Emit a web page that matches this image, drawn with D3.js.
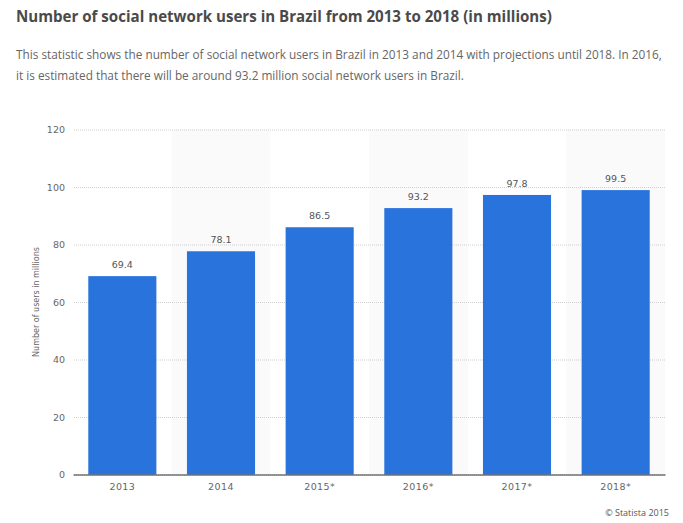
<!DOCTYPE html>
<html>
<head>
<meta charset="utf-8">
<script src="https://cdn.jsdelivr.net/npm/d3@7"></script>
<style>
  body { margin: 0; background: #fff; }
  svg { display: block; }
  .title { font: bold 15.1px "Open Sans"; fill: #4a4a4a; }
  .desc { font: 11.8px "Open Sans"; fill: #666; }
  .tick text, .ylabel, .value { font-family: "DejaVu Sans"; }
  .credit { font-family: "Open Sans"; }
</style>
</head>
<body>
<div id="chart"></div>
<script>
const years = ["2013", "2014", "2015*", "2016*", "2017*", "2018*"];
const users = [69.4, 78.1, 86.5, 93.2, 97.8, 99.5];
const yTicks = [0, 20, 40, 60, 80, 100, 120];
const descLines = [
  "This statistic shows the number of social network users in Brazil in 2013 and 2014 with projections until 2018. In 2016,",
  "it is estimated that there will be around 93.2 million social network users in Brazil."
];

const width = 683, height = 523;
const plotLeft = 73, plotRight = 665, plotTop = 129.5, plotBottom = 474.5;

const svg = d3.select("#chart").append("svg")
  .attr("width", width)
  .attr("height", height);

const x = d3.scaleBand().domain(years).range([plotLeft, plotRight]).paddingInner(0.31).paddingOuter(0.155);
const bands = d3.scaleBand().domain(years).range([plotLeft, plotRight]);
const y = d3.scaleLinear().domain([0, 120]).range([plotBottom, plotTop]);
// bars in the original sit a touch under the gridlines
const barY = d3.scaleLinear().domain([0, 120]).range([plotBottom, plotTop + 2]);

svg.append("text").attr("class", "title").attr("x", 16).attr("y", 22)
  .text("Number of social network users in Brazil from 2013 to 2018 (in millions)");

svg.selectAll(".desc").data(descLines).enter()
  .append("text")
  .attr("class", "desc")
  .attr("x", 16)
  .attr("y", (d, i) => 59 + i * 21)
  .text(d => d);

// every other column has a light background
svg.selectAll(".stripe").data(years.filter((d, i) => i % 2 == 1)).enter()
  .append("rect")
  .attr("class", "stripe")
  .attr("x", d => bands(d))
  .attr("y", plotTop)
  .attr("width", bands.bandwidth())
  .attr("height", plotBottom - plotTop)
  .attr("fill", "#fafafa");

const yAxis = d3.axisLeft(y).tickValues(yTicks).tickSize(plotRight - plotLeft).tickPadding(8);
const yG = svg.append("g")
  .attr("transform", "translate(" + plotRight + ",0)")
  .call(yAxis);
yG.select(".domain").remove();
yG.selectAll(".tick line")
  .attr("stroke", "#d0d0d0")
  .attr("stroke-dasharray", "1,1");
yG.selectAll(".tick text")
  .attr("font-size", 9.5)
  .attr("fill", "#666");

svg.selectAll(".bar").data(users).enter()
  .append("rect")
  .attr("class", "bar")
  .attr("x", (d, i) => x(years[i]))
  .attr("y", d => barY(d))
  .attr("width", x.bandwidth())
  .attr("height", d => barY(0) - barY(d))
  .attr("fill", "#2873dc");

svg.selectAll(".value").data(users).enter()
  .append("text")
  .attr("class", "value")
  .attr("x", (d, i) => x(years[i]) + x.bandwidth() / 2)
  .attr("y", d => barY(d) - 8)
  .attr("text-anchor", "middle")
  .attr("font-size", 9.5)
  .attr("fill", "#555")
  .text(d => d.toFixed(1));

const xG = svg.append("g")
  .attr("transform", "translate(0," + plotBottom + ")")
  .call(d3.axisBottom(bands).tickSize(0).tickPadding(9));
xG.select(".domain").attr("stroke", "#333").attr("stroke-width", 1);
xG.selectAll(".tick text")
  .attr("font-size", 9.5)
  .attr("letter-spacing", "0.4px")
  .attr("fill", "#666");

svg.append("text")
  .attr("class", "ylabel")
  .attr("transform", "translate(39," + (plotTop + plotBottom) / 2 + ") rotate(-90)")
  .attr("text-anchor", "middle")
  .attr("font-size", 8)
  .attr("fill", "#666")
  .text("Number of users in millions");

svg.append("text")
  .attr("class", "credit")
  .attr("x", 669)
  .attr("y", 516)
  .attr("text-anchor", "end")
  .attr("font-size", 9)
  .attr("fill", "#555")
  .text("© Statista 2015");
</script>
</body>
</html>
